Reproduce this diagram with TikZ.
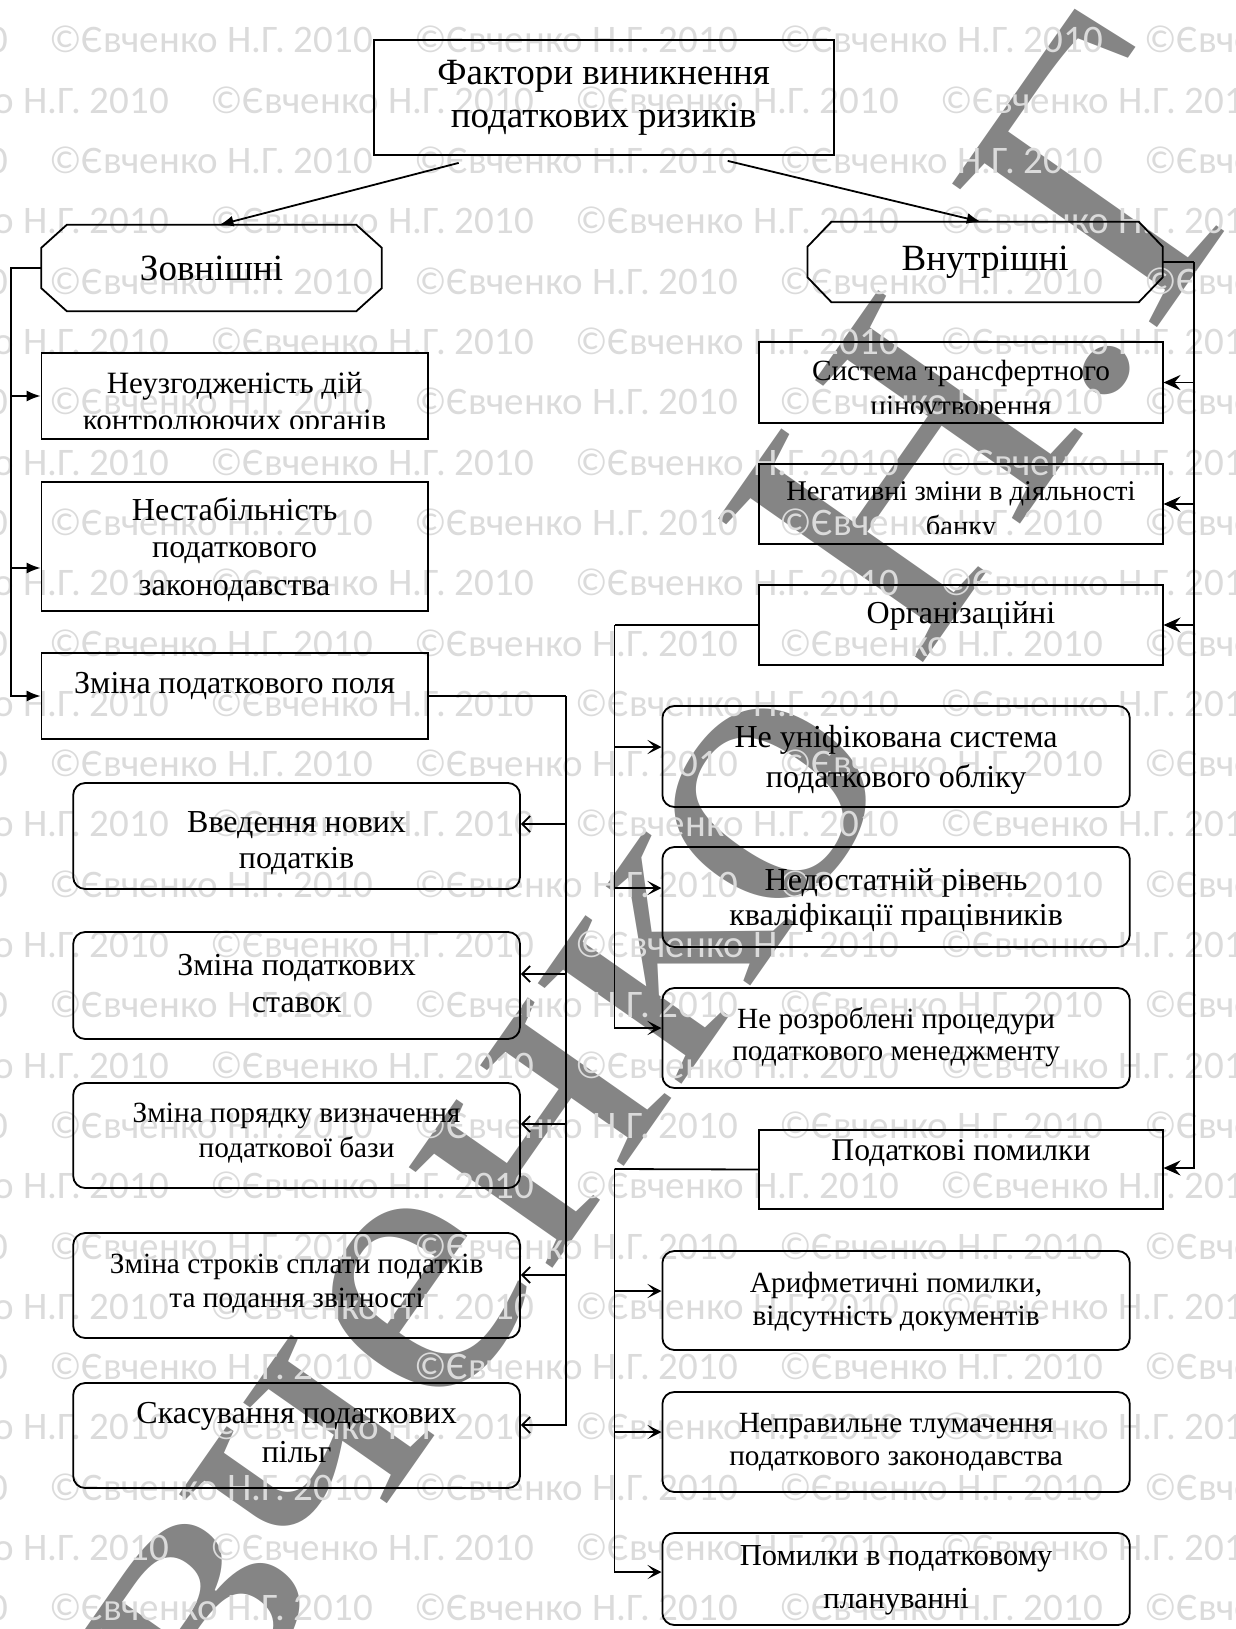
\documentclass[tikz,border=0pt]{standalone}
\usepackage{graphicx}
\usepackage{fontspec}
\setmainfont{Liberation Serif}
\newfontfamily\markfont{Carlito}
\newfontfamily\bigmarkfont{Liberation Serif}
\usetikzlibrary{arrows.meta}
\newcommand\fsz[2]{\fontsize{#1}{#2}\selectfont}
% centred lines whose baseline is the baseline of the first line
\newcommand\lines[1]{\vtop{\halign{\hfil##\hfil\cr#1\crcr}}}
\newcommand\markunit{\makebox[365pt][l]{©Євченко Н.Г. 2010}}
\newcommand\markrow{\markunit\markunit\markunit\markunit\markunit}
\definecolor{markgray}{gray}{0.86}
\definecolor{biggray}{gray}{0.52}

\begin{document}
\begin{tikzpicture}[x=1pt,y=-1pt,
  box/.style={draw, line width=1.8pt, inner sep=0pt},
  rbox/.style={box, rounded corners=12pt},
  lab/.style={anchor=base, inner sep=0pt},
  wire/.style={line width=1.8pt},
  trihead/.style={-{Latex[length=14pt,width=11pt]}},
  kitehead/.style={-{Stealth[length=17pt,width=15pt,inset=6pt]}},
  barbhead/.style={-{Straight Barb[length=8pt,width=16pt]}},
  qhead/.style={-{Stealth[length=14pt,width=14pt,inset=7pt]}},
]
\useasboundingbox (0,0) rectangle (1235,1629);
\clip (0,0) rectangle (1235,1629);

% ---------- large diagonal mark ----------
\node[anchor=base east, rotate=55, inner sep=0pt, text=biggray,
      font=\bigmarkfont\fsz{382}{400}] (bigA) at (902.7,768.3) {\scalebox{1.1}[1]{Євченко}};
\node[anchor=base west, rotate=55, inner sep=0pt, text=biggray,
      font=\bigmarkfont\fsz{382}{400}] (bigB) at (916,672.3) {\scalebox{1.1}[1]{Н.Г.}};

% ---------- light repeated mark ----------
\foreach \k in {0,...,26}{
  \pgfmathsetmacro{\yy}{53+60.3*\k}
  \pgfmathsetmacro{\xx}{isodd(\k) ? -155 : -316}
  \node[anchor=base west, inner sep=0pt, text=markgray,
        font=\markfont\fsz{39}{47}] (mark\k) at (\xx,\yy) {\markrow};
}

% ---------- top ----------
\node[box, minimum width=460pt, minimum height=115pt] (title) at (603.7,97.5) {};
\node[lab, font=\fsz{37}{43}] (titletext) at (603.7,85)
  {\lines{Фактори виникнення\cr податкових ризиків}};

\node[inner sep=0pt, minimum width=340.1pt, minimum height=86pt, font=\fsz{37}{43}] (zov) at (211.55,268) {Зовнішні};
\draw[wire] ([xshift=25.5pt]zov.north west) -- ([xshift=-25.5pt]zov.north east)
  -- ([yshift=-23pt]zov.north east) -- ([yshift=23pt]zov.south east)
  -- ([xshift=-25.5pt]zov.south east) -- ([xshift=25.5pt]zov.south west)
  -- ([yshift=23pt]zov.south west) -- ([yshift=-23pt]zov.north west) -- cycle;

\node[inner sep=0pt, minimum width=355pt, minimum height=80pt, font=\fsz{37}{43}] (vnu) at (985.1,262) {Внутрішні};
\draw[wire] ([xshift=24pt]vnu.north west) -- ([xshift=-24pt]vnu.north east)
  -- ([yshift=-25pt]vnu.north east) -- ([yshift=25pt]vnu.south east)
  -- ([xshift=-24pt]vnu.south east) -- ([xshift=24pt]vnu.south west)
  -- ([yshift=25pt]vnu.south west) -- ([yshift=-25pt]vnu.north west) -- cycle;

\draw[wire, trihead] ([xshift=-145pt,yshift=-7pt]title.south) -- ([xshift=8pt]zov.north);
\draw[wire, trihead] ([xshift=124pt,yshift=-5pt]title.south) -- ([xshift=-4.3pt]vnu.north);

% ---------- external factors ----------
\node[box, minimum width=386.3pt, minimum height=86pt] (n1) at (234.65,396) {};
\begin{scope}
  \clip (n1.north west) rectangle ([yshift=11pt]n1.south east);
  \node[lab, font=\fsz{31}{37}] (n1text) at (234.65,393)
    {\lines{Неузгодженість дій\cr контролюючих органів}};
\end{scope}
\node[box, minimum width=386.3pt, minimum height=129pt] (n2) at (234.65,546.5) {};
\node[lab, font=\fsz{32}{37.5}] (n2text) at (234.65,520)
  {\lines{Нестабільність\cr податкового\cr законодавства}};
\node[box, minimum width=386.3pt, minimum height=86pt] (n3) at (234.65,696) {};
\node[lab, font=\fsz{32}{38}] (n3text) at (234.65,693) {Зміна податкового поля};

\coordinate (lbus) at (10.7,268);
\draw[wire, trihead] (zov.west) -- (lbus) |- (n3.west);
\draw[wire, trihead] (n1.west -| lbus) -- (n1.west);
\draw[wire, trihead] ([yshift=-21.5pt]n2.west -| lbus) -- ([yshift=-21.5pt]n2.west);

\node[rbox, minimum width=446.8pt, minimum height=106pt] (r1) at (296.6,836) {};
\node[lab, font=\fsz{32}{36}] (r1text) at (296.6,832) {\lines{Введення нових\cr податків}};
\node[rbox, minimum width=446.8pt, minimum height=107pt] (r2) at (296.6,985.5) {};
\node[lab, font=\fsz{32}{37}] (r2text) at (296.6,975) {\lines{Зміна податкових\cr ставок}};
\node[rbox, minimum width=446.8pt, minimum height=105pt] (r3) at (296.6,1135.5) {};
\node[lab, font=\fsz{29.3}{35}] (r3text) at (296.6,1122) {\lines{Зміна порядку визначення\cr податкової бази}};
\node[rbox, minimum width=446.8pt, minimum height=105pt] (r4) at (296.6,1285.5) {};
\node[lab, font=\fsz{29.3}{34}] (r4text) at (296.6,1273) {\lines{Зміна строків сплати податків\cr та подання звітності}};
\node[rbox, minimum width=446.8pt, minimum height=105pt] (r5) at (296.6,1435.5) {};
\node[lab, font=\fsz{32}{39}] (r5text) at (296.6,1423) {\lines{Скасування податкових\cr пільг}};

\coordinate (mbus) at (566.2,696);
\draw[wire] (n3.east) -- (mbus);
\draw[wire, barbhead] (mbus) |- ([yshift=10.5pt]r5.east);
\draw[wire, barbhead] ([yshift=12pt]r1.east -| mbus) -- ([yshift=12pt]r1.east);
\draw[wire, barbhead] ([yshift=11.5pt]r2.east -| mbus) -- ([yshift=11.5pt]r2.east);
\draw[wire, barbhead] ([yshift=11.5pt]r3.east -| mbus) -- ([yshift=11.5pt]r3.east);
\draw[wire, barbhead] ([yshift=10.5pt]r4.east -| mbus) -- ([yshift=10.5pt]r4.east);

% ---------- internal factors ----------
\node[box, minimum width=403.3pt, minimum height=81pt] (s1) at (960.95,382.5) {};
\begin{scope}
  \clip (s1.north west) rectangle ([yshift=10pt]s1.south east);
  \node[lab, font=\fsz{29.3}{35}] (s1text) at (960.95,380)
    {\lines{Система трансфертного\cr ціноутворення}};
\end{scope}
\node[box, minimum width=403.3pt, minimum height=80pt] (s2) at (960.95,504) {};
\begin{scope}
  \clip (s2.north west) rectangle ([yshift=11pt]s2.south east);
  \node[lab, font=\fsz{28.5}{35}] (s2text) at (960.95,500)
    {\lines{Негативні зміни в діяльності\cr банку}};
\end{scope}
\node[box, minimum width=403.3pt, minimum height=80pt] (s3) at (960.95,625) {};
\node[lab, font=\fsz{32}{38}] (s3text) at (960.95,623) {Організаційні};
\node[box, minimum width=403.3pt, minimum height=79pt] (s4) at (960.95,1169.5) {};
\node[lab, font=\fsz{31.6}{38}] (s4text) at (960.95,1160) {Податкові помилки};

\coordinate (rbus) at (1194.3,262);
\draw[wire] (vnu.east) -- (rbus);
\draw[wire, kitehead] (rbus) |- ([yshift=1.5pt]s4.east);
\draw[wire, kitehead] (s1.east -| rbus) -- (s1.east);
\draw[wire, kitehead] (s2.east -| rbus) -- (s2.east);
\draw[wire, kitehead] (s3.east -| rbus) -- (s3.east);

\node[rbox, minimum width=467.4pt, minimum height=101pt] (q1) at (896.1,756.5) {};
\node[lab, font=\fsz{32}{40}] (q1text) at (896.1,747) {\lines{Не уніфікована система\cr податкового обліку}};
\node[rbox, minimum width=467.4pt, minimum height=100pt] (q2) at (896.1,897) {};
\node[lab, font=\fsz{32}{35}] (q2text) at (896.1,890) {\lines{Недостатній рівень\cr кваліфікації працівників}};
\node[rbox, minimum width=467.4pt, minimum height=100pt] (q3) at (896.1,1038) {};
\node[lab, font=\fsz{29.3}{32}] (q3text) at (896.1,1028) {\lines{Не розроблені процедури\cr податкового менеджменту}};
\node[rbox, minimum width=467.4pt, minimum height=99pt] (q4) at (896.1,1300.5) {};
\node[lab, font=\fsz{29.3}{33}] (q4text) at (896.1,1292) {\lines{Арифметичні помилки,\cr відсутність документів}};
\node[rbox, minimum width=467.4pt, minimum height=100pt] (q5) at (896.1,1442) {};
\node[lab, font=\fsz{29.3}{33}] (q5text) at (896.1,1432) {\lines{Неправильне тлумачення\cr податкового законодавства}};
\node[rbox, minimum width=467.4pt, minimum height=92pt] (q6) at (896.1,1579) {};
\node[lab, font=\fsz{30.5}{43}] (q6text) at (896.1,1565) {\lines{Помилки в податковому\cr плануванні}};

\coordinate (obus) at (614.5,625);
\draw[wire] (s3.west) -- (obus);
\draw[wire, qhead] (obus) |- ([yshift=10pt]q3.west);
\draw[wire, qhead] ([yshift=9.5pt]q1.west -| obus) -- ([yshift=9.5pt]q1.west);
\draw[wire, qhead] ([yshift=9pt]q2.west -| obus) -- ([yshift=9pt]q2.west);

\coordinate (ebus) at (614.5,1169);
\draw[wire] (s4.west) -- (ebus);
\draw[wire, qhead] (ebus) |- ([yshift=7pt]q6.west);
\draw[wire, qhead] ([yshift=9.5pt]q4.west -| ebus) -- ([yshift=9.5pt]q4.west);
\draw[wire, qhead] ([yshift=10pt]q5.west -| ebus) -- ([yshift=10pt]q5.west);
\end{tikzpicture}
\end{document}
